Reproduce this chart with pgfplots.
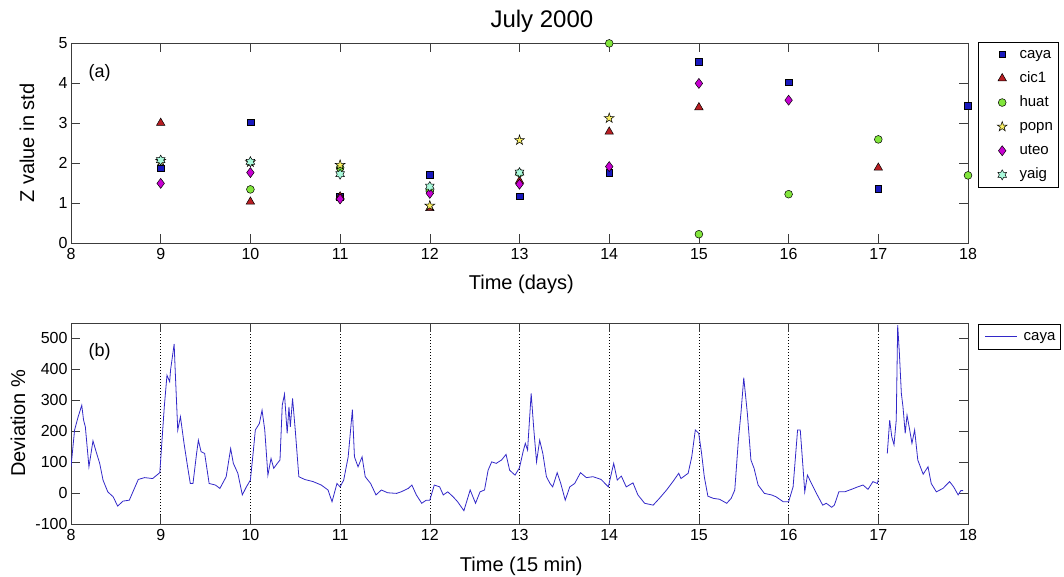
\documentclass[border=0pt]{standalone}
\usepackage{fontspec}
\setmainfont{Liberation Sans}
\usepackage{pgfplots}
\pgfplotsset{compat=1.18}

\definecolor{cayac}{RGB}{25,25,190}
\definecolor{cic1c}{RGB}{185,30,35}
\definecolor{huatc}{RGB}{130,230,60}
\definecolor{popnc}{RGB}{250,240,100}
\definecolor{uteoc}{RGB}{200,0,210}
\definecolor{yaigc}{RGB}{170,250,220}
\definecolor{linec}{RGB}{50,40,200}
\definecolor{framec}{RGB}{60,60,60}

\pgfdeclareplotmark{pentagram}{%
  \pgfpathmoveto{\pgfpointpolar{90}{\pgfplotmarksize}}%
  \pgfpathlineto{\pgfpointpolar{126}{0.382*\pgfplotmarksize}}%
  \pgfpathlineto{\pgfpointpolar{162}{\pgfplotmarksize}}%
  \pgfpathlineto{\pgfpointpolar{198}{0.382*\pgfplotmarksize}}%
  \pgfpathlineto{\pgfpointpolar{234}{\pgfplotmarksize}}%
  \pgfpathlineto{\pgfpointpolar{270}{0.382*\pgfplotmarksize}}%
  \pgfpathlineto{\pgfpointpolar{306}{\pgfplotmarksize}}%
  \pgfpathlineto{\pgfpointpolar{342}{0.382*\pgfplotmarksize}}%
  \pgfpathlineto{\pgfpointpolar{18}{\pgfplotmarksize}}%
  \pgfpathlineto{\pgfpointpolar{54}{0.382*\pgfplotmarksize}}%
  \pgfpathclose
  \pgfusepathqfillstroke}
\pgfdeclareplotmark{hexagram}{%
  \pgfpathmoveto{\pgfpointpolar{90}{\pgfplotmarksize}}%
  \pgfpathlineto{\pgfpointpolar{120}{0.577*\pgfplotmarksize}}%
  \pgfpathlineto{\pgfpointpolar{150}{\pgfplotmarksize}}%
  \pgfpathlineto{\pgfpointpolar{180}{0.577*\pgfplotmarksize}}%
  \pgfpathlineto{\pgfpointpolar{210}{\pgfplotmarksize}}%
  \pgfpathlineto{\pgfpointpolar{240}{0.577*\pgfplotmarksize}}%
  \pgfpathlineto{\pgfpointpolar{270}{\pgfplotmarksize}}%
  \pgfpathlineto{\pgfpointpolar{300}{0.577*\pgfplotmarksize}}%
  \pgfpathlineto{\pgfpointpolar{330}{\pgfplotmarksize}}%
  \pgfpathlineto{\pgfpointpolar{0}{0.577*\pgfplotmarksize}}%
  \pgfpathlineto{\pgfpointpolar{30}{\pgfplotmarksize}}%
  \pgfpathlineto{\pgfpointpolar{60}{0.577*\pgfplotmarksize}}%
  \pgfpathclose
  \pgfusepathqfillstroke}

\pgfplotsset{
  myaxis/.style={
    scale only axis, width=897pt,
    xmin=8, xmax=18, xtick={8,...,18},
    tick align=inside, major tick length=9pt,
    axis line style={framec}, tick style={framec, line width=0.6pt},
    /pgf/number format/assume math mode=true,
    ticklabel style={font=\fontsize{16}{18}\selectfont},
    xticklabel style={yshift=-2pt},
    label style={font=\fontsize{20}{24}\selectfont},
    legend style={font=\fontsize{15}{18}\selectfont, draw=black, line width=0.6pt,
      inner sep=3pt, column sep=4pt, row sep=5.6pt, cells={anchor=west},
      nodes={text height=11pt, text depth=3.5pt, inner sep=2pt}},
  },
  lgmark/.style={legend image code/.code={\path (0pt,-3pt) (32pt,3pt); \draw[##1] plot coordinates {(21pt,0pt)};}},
}

\begin{document}
\begin{tikzpicture}
\path[use as bounding box] (0,0) rectangle (1064pt,577pt);

% ---------------- top axis ----------------
\begin{axis}[myaxis,
  at={(71pt,334pt)}, anchor=south west, height=200pt,
  ymin=0, ymax=5, ytick={0,...,5},
  clip=false,
  xlabel={Time (days)}, ylabel={Z value in std},
  xlabel style={at={(axis description cs:0.502,-0.235)}, anchor=base},
  ylabel style={at={(axis description cs:-0.049,0.5)}, anchor=center},
  legend style={at={(axis description cs:1.0107,1.006)}, anchor=north west},
]
\addplot[only marks, lgmark, mark=square*, mark size=3.4pt, mark options={fill=cayac, draw=black, line width=0.5pt}] coordinates {
(9,1.87) (10,3.02) (11,1.15) (12,1.70) (13,1.17) (14,1.76) (15,4.53) (16,4.02) (17,1.36) (18,3.43)};
\addlegendentry{caya}
\addplot[only marks, lgmark, mark=triangle*, mark size=4.9pt, mark options={fill=cic1c, draw=black, line width=0.5pt}] coordinates {
(9,3.00) (10,1.03) (11,1.16) (12,0.87) (13,1.55) (14,2.78) (15,3.39) (17,1.88)};
\addlegendentry{cic1}
\addplot[only marks, lgmark, mark=*, mark size=3.9pt, mark options={fill=huatc, draw=black, line width=0.5pt}] coordinates {
(10,1.34) (11,1.88) (12,1.30) (13,1.75) (14,4.99) (15,0.22) (16,1.22) (17,2.59) (18,1.69)};
\addlegendentry{huat}
\addplot[only marks, lgmark, mark=pentagram, mark size=5.2pt, mark options={fill=popnc, draw=black, line width=0.5pt}] coordinates {
(9,2.05) (10,2.02) (11,1.95) (12,0.93) (13,2.57) (14,3.12)};
\addlegendentry{popn}
\addplot[only marks, lgmark, mark=diamond*, mark size=5pt, mark options={fill=uteoc, draw=black, line width=0.5pt}] coordinates {
(9,1.49) (10,1.76) (11,1.10) (12,1.24) (13,1.47) (14,1.91) (15,3.99) (16,3.57)};
\addlegendentry{uteo}
\addplot[only marks, lgmark, mark=hexagram, mark size=5pt, mark options={fill=yaigc, draw=black, line width=0.5pt}] coordinates {
(9,2.07) (10,2.03) (11,1.72) (12,1.41) (13,1.76)};
\addlegendentry{yaig}
\node[font=\fontsize{18}{20}\selectfont, anchor=center] at (axis description cs:0.032,0.85) {(a)};
\node[font=\fontsize{24}{28}\selectfont, anchor=base] at (axis description cs:0.525,1.0785) {July 2000};
\end{axis}

% ---------------- bottom axis ----------------
\begin{axis}[myaxis,
  at={(71pt,53pt)}, anchor=south west, height=201pt,
  ymin=-100, ymax=550, ytick={-100,0,...,500},
  xmajorgrids, major x grid style={black, line width=0.6pt, dash pattern=on 1pt off 2pt},
  unbounded coords=jump,
  xlabel={Time (15 min)}, ylabel={Deviation \%},
  xlabel style={at={(axis description cs:0.502,-0.234)}, anchor=base},
  ylabel style={at={(axis description cs:-0.059,0.5)}, anchor=center},
  legend style={at={(axis description cs:1.0107,0.995)}, anchor=north west},
  legend image code/.code={\path (0pt,0pt) (36pt,0pt); \draw[#1] (4pt,0pt) -- (36pt,0pt);},
]
\addplot[linec, line width=0.8pt, no marks] coordinates {
(8.00,85) (8.04,204) (8.08,247) (8.12,284) (8.14,236) (8.16,214) (8.20,85) (8.245,169) (8.28,134) (8.32,96)
(8.357,42) (8.41,4) (8.47,-12) (8.52,-42) (8.58,-26) (8.65,-23) (8.75,44) (8.82,50) (8.91,47) (8.99,66)
(9.04,279) (9.07,381) (9.10,360) (9.11,398) (9.15,482) (9.16,408) (9.19,204) (9.22,247) (9.26,161) (9.30,85)
(9.33,31) (9.36,31) (9.40,128) (9.42,171) (9.45,134) (9.49,128) (9.54,31) (9.61,26) (9.66,15) (9.73,53)
(9.78,144) (9.81,96) (9.86,64) (9.91,-6) (9.955,20) (10.0,42) (10.03,128) (10.055,204) (10.10,225) (10.13,268)
(10.16,204) (10.195,58) (10.23,112) (10.26,80) (10.30,96) (10.33,107) (10.355,284) (10.38,320) (10.41,193) (10.43,279)
(10.445,214) (10.47,306) (10.50,204) (10.54,53) (10.605,44) (10.70,37) (10.79,26) (10.865,10) (10.91,-28) (10.965,31)
(11.0,20) (11.04,42) (11.09,117) (11.137,270) (11.16,117) (11.20,85) (11.245,117) (11.28,53) (11.34,31) (11.40,-6)
(11.46,10) (11.53,1) (11.63,-1) (11.68,4) (11.76,15) (11.80,26) (11.85,-6) (11.91,-33) (11.96,-23) (12.0,-23)
(12.05,26) (12.11,20) (12.15,-6) (12.20,4) (12.26,-12) (12.31,-28) (12.38,-57) (12.45,10) (12.51,-33) (12.56,4)
(12.61,10) (12.65,74) (12.69,101) (12.74,96) (12.80,107) (12.85,125) (12.89,74) (12.95,58) (13.0,82) (13.04,134)
(13.065,161) (13.09,139) (13.13,322) (13.16,204) (13.19,101) (13.225,171) (13.26,128) (13.30,53) (13.34,31) (13.37,20)
(13.42,66) (13.46,31) (13.51,-23) (13.56,20) (13.615,31) (13.68,66) (13.745,50) (13.82,53) (13.91,44) (13.99,20)
(14.05,96) (14.09,42) (14.135,55) (14.19,20) (14.265,33) (14.32,-6) (14.395,-33) (14.49,-39) (14.56,-17) (14.64,10)
(14.71,37) (14.775,64) (14.80,47) (14.88,64) (14.92,117) (14.96,204) (14.998,193) (15.03,128) (15.06,53) (15.10,-10)
(15.16,-17) (15.23,-20) (15.31,-33) (15.36,-17) (15.40,10) (15.44,171) (15.47,263) (15.50,373) (15.54,258) (15.58,107)
(15.615,80) (15.66,26) (15.73,-1) (15.81,-6) (15.86,-12) (15.94,-28) (16.0,-28) (16.05,20) (16.10,204) (16.13,204)
(16.16,85) (16.18,4) (16.21,58) (16.255,31) (16.31,-1) (16.38,-39) (16.42,-33) (16.48,-46) (16.51,-39) (16.56,4)
(16.625,4) (16.70,12) (16.77,20) (16.83,26) (16.885,12) (16.94,37) (16.99,31) (17.0,44) (17.05,nan)
(17.10,128) (17.127,236) (17.15,182) (17.175,156) (17.20,236) (17.216,543) (17.235,452) (17.257,322) (17.275,279) (17.30,193)
(17.32,252) (17.35,204) (17.375,161) (17.405,204) (17.44,107) (17.50,61) (17.554,85) (17.59,31) (17.647,4) (17.72,15)
(17.795,37) (17.84,20) (17.89,-6) (17.92,8) (17.945,8)};
\addlegendentry{caya}
\node[font=\fontsize{18}{20}\selectfont, anchor=center] at (axis description cs:0.032,0.856) {(b)};
\end{axis}
\end{tikzpicture}
\end{document}
